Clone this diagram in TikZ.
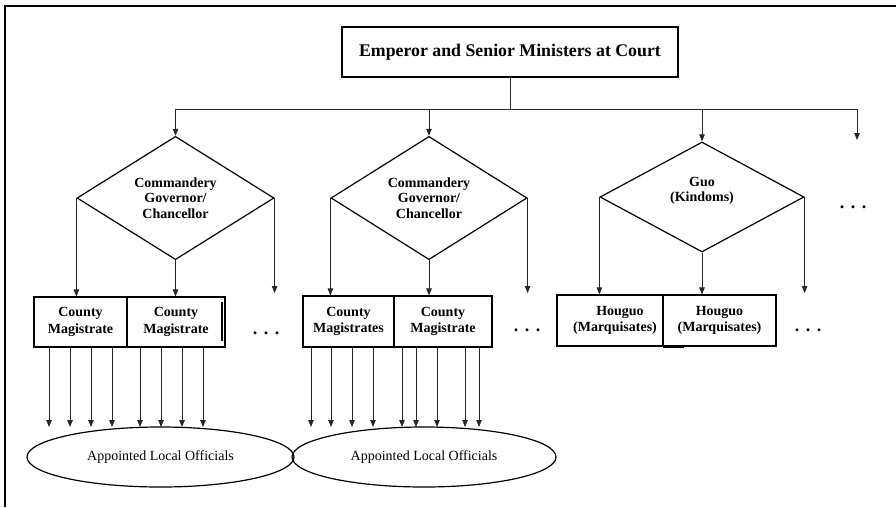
\documentclass[tikz,border=0pt]{standalone}
\usepackage{fontspec}
\setmainfont{Liberation Serif}
\usetikzlibrary{shapes.geometric,arrows.meta,calc}
\begin{document}
\begin{tikzpicture}[x=1pt,y=-1pt,
  arr/.style={-{Triangle[length=7pt,width=5.5pt]},line width=0.85pt,draw=black!85,fill=black},
  busline/.style={line width=0.85pt,draw=black!85},
  titlebox/.style={draw,rectangle,line width=1.2pt,inner sep=0pt,font=\fontsize{17.8}{20}\selectfont\bfseries},
  dia/.style={draw,diamond,line width=1.2pt,inner sep=0pt,font=\fontsize{14}{15.5}\selectfont\bfseries,align=center},
  cbox/.style={draw,rectangle,line width=1.2pt,inner sep=0pt,font=\fontsize{14}{16.5}\selectfont\bfseries,align=center},
  oval/.style={draw,ellipse,line width=1.2pt,inner sep=0pt,minimum height=60pt,font=\fontsize{14}{16}\selectfont},
  dots/.style={font=\fontsize{18}{20}\selectfont\bfseries,anchor=base,inner sep=0pt},
  frame/.style={line width=2.5pt}]
\useasboundingbox (0,0) rectangle (896,507);
% frame (left and top edges)
\draw[frame] (5,507) -- (5,6) -- (896,6);

% top box
\node[titlebox,minimum width=336pt,minimum height=50pt] (emp) at (510,52) {Emperor and Senior Ministers at Court};

% bus
\coordinate (j0) at (510,109);
\coordinate (jL) at (175.5,109);
\coordinate (jR) at (857,109);
\coordinate (e4) at (857,140);
\draw[busline] (emp.south) -- (j0);
\draw[busline] (jL) -- (jR);

% diamonds
\node[dia,minimum width=197pt,minimum height=112pt] (d1) at (175.5,198) {Commandery\\Governor/\\Chancellor};
\node[dia,minimum width=196pt,minimum height=112pt] (d2) at (429,198) {Commandery\\Governor/\\Chancellor};
\node[dia,minimum width=204pt,minimum height=110pt] (d3) at (702,197) {Guo\\(Kindoms)\\~};

\draw[arr] (jL) -- (d1.north);
\draw[arr] (d2.north |- jL) -- (d2.north);
\draw[arr] (d3.north |- jL) -- (d3.north);
\draw[arr] (jR) -- (e4);

\node[dots] (dt) at (853,208.5) {.\hspace{6.5pt}.\hspace{6.5pt}.};

% county boxes group 1
\node[cbox,minimum width=93pt,minimum height=50pt] (c11) at (80.5,322) {County\\Magistrate};
\node[cbox,minimum width=98pt,minimum height=50pt] (c12) at (176,322) {County\\Magistrate};
\draw[line width=1.5pt] (222,302) -- (222,341);
% group 2
\node[cbox,minimum width=91pt,minimum height=51pt] (c21) at (348.5,321.5) {County\\Magistrates};
\node[cbox,minimum width=98pt,minimum height=51pt] (c22) at (443,321.5) {County\\Magistrate};
% group 3
\node[cbox,minimum width=106pt,minimum height=51pt] (c31) at (610,320.5) {\hspace*{20pt}Houguo\\\hspace*{10pt}(Marquisates)};
\node[cbox,minimum width=113pt,minimum height=51pt] (c32) at (719.5,320.5) {Houguo\\(Marquisates)};
\draw[line width=1.5pt] (663,347) -- (684,347);

% free ends of the right arrows
\coordinate (f1) at (274,293);
\coordinate (f2) at (528,293);
\coordinate (f3) at (804,293);

\draw[arr] (d1.west) -- (d1.west |- c11.north);
\draw[arr] (d1.south) -- (d1.south |- c12.north);
\draw[arr] (d1.east) -- (d1.east |- f1);
\draw[arr] (d2.west) -- (d2.west |- c21.north);
\draw[arr] (d2.south) -- (d2.south |- c22.north);
\draw[arr] (d2.east) -- (d2.east |- f2);
\draw[arr] (d3.west) -- (d3.west |- c31.north);
\draw[arr] (d3.south) -- (d3.south |- c32.north);
\draw[arr] (d3.east) -- (d3.east |- f3);

% dots
\node[dots] (dd1) at (266,334.5) {.\hspace{6.5pt}.\hspace{6.5pt}.};
\node[dots] (dd2) at (527,331.5) {.\hspace{6.5pt}.\hspace{6.5pt}.};
\node[dots] (dd3) at (808,331.5) {.\hspace{6.5pt}.\hspace{6.5pt}.};

% ellipses
\node[oval,minimum width=267pt] (o1) at (160.5,457) {Appointed Local Officials};
\node[oval,minimum width=264pt] (o2) at (424,457) {Appointed Local Officials};

% arrows to officials
\foreach \x in {49,70,91,112} \draw[arr] (c11.south -| \x,0) -- (\x,427);
\foreach \x in {140,161,182,203} \draw[arr] (c12.south -| \x,0) -- (\x,427);
\foreach \x in {311,331,352,373} \draw[arr] (c21.south -| \x,0) -- (\x,427);
\foreach \x in {402,416,437,465,479} \draw[arr] (c22.south -| \x,0) -- (\x,427);
\end{tikzpicture}
\end{document}
